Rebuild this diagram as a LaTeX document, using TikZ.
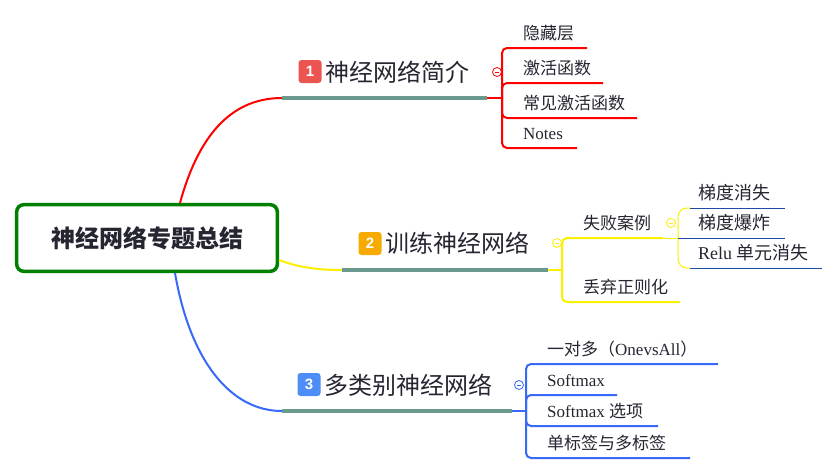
\documentclass[tikz,border=0pt]{standalone}
\usepackage{fontspec}
\setmainfont{Liberation Serif}
\newfontfamily\cjk{Noto Sans CJK SC}
\newfontfamily\digitfont{Liberation Sans}
\usetikzlibrary{calc}
\definecolor{txt}{RGB}{38,38,51}
\definecolor{rootgreen}{RGB}{0,128,0}
\definecolor{bargrey}{RGB}{106,153,142}
\definecolor{lred}{RGB}{255,0,0}
\definecolor{lyellow}{RGB}{250,240,0}
\definecolor{lblue}{RGB}{55,105,250}
\definecolor{ldblue}{RGB}{30,75,165}
\definecolor{bred}{RGB}{235,84,80}
\definecolor{borange}{RGB}{247,170,0}
\definecolor{bblue}{RGB}{77,141,245}
\newcommand\zhs[1]{{\cjk #1}}
\tikzset{
  rootbox/.style={draw=rootgreen, line width=3.5pt, rounded corners=7pt, fill=white,
    minimum width=260.6pt, minimum height=66.6pt, inner sep=0pt, text=txt,
    font=\cjk\bfseries\fontsize{24}{28}\selectfont},
  badge/.style={fill=#1, rounded corners=3pt, minimum size=23pt, inner sep=0pt,
    text=white, font=\digitfont\bfseries\fontsize{15}{17}\selectfont},
  topic/.style={anchor=base west, inner sep=0pt, text=txt, font=\cjk\fontsize{24}{28}\selectfont},
  leaf/.style={anchor=base west, inner sep=0pt, text=txt, font=\fontsize{17}{20}\selectfont},
  subleaf/.style={anchor=base west, inner sep=0pt, text=txt, font=\fontsize{18}{21}\selectfont},
  bar/.style={line width=4pt, draw=bargrey},
  branch/.style={line width=2pt, draw=#1},
  thinbranch/.style={line width=1pt, draw=#1},
  collapse/.style={circle, draw=#1, fill=white, minimum size=9pt, inner sep=0pt, line width=0.8pt,
    path picture={\draw[line width=0.7pt, #1] ([xshift=-2.2pt]path picture bounding box.center) -- ([xshift=2.2pt]path picture bounding box.center);}},
}
\begin{document}
\begin{tikzpicture}[x=1pt,y=-1pt]
\fill[white] (0,0) rectangle (838,475);
\useasboundingbox (0,0) rectangle (838,475);

% root
\node[rootbox] (root) at (147,238) {神经网络专题总结};

% topic anchors
\coordinate (t1a) at (282,98);  \coordinate (t1b) at (487,98);  \coordinate (j1) at (502,98);
\coordinate (t2a) at (342,270); \coordinate (t2b) at (548,270); \coordinate (j2) at (562,270);
\coordinate (t3a) at (282,411); \coordinate (t3b) at (512,411); \coordinate (j4) at (526,411);

% main curves
\draw[branch=lred] ($(root.north)+(33,0)$) .. controls (200,130) and (235,98) .. (t1a);
\draw[branch=lyellow] ($(root.east)+(0,22)$) .. controls (300,268) and (320,270) .. (t2a);
\draw[branch=lblue] ($(root.south)+(28,0)$) .. controls (190,360) and (230,411) .. (t3a);

% bars
\draw[bar] (t1a) -- (t1b);
\draw[bar] (t2a) -- (t2b);
\draw[bar] (t3a) -- (t3b);

% topic labels
\node[badge=bred] (b1) at (310,71.5) {1};
\node[topic] (t1) at (325,81) {神经网络简介};
\node[badge=borange] (b2) at (370,243.5) {2};
\node[topic] (t2) at (385,252) {训练神经网络};
\node[badge=bblue] (b3) at (309,384.5) {3};
\node[topic] (t3) at (324,394) {多类别神经网络};

% topic 1 children
\coordinate (u11) at (587,48);
\coordinate (u12) at (603,83);
\coordinate (u13) at (637,118);
\coordinate (u14) at (577,148);
\draw[branch=lred] (t1b) -- (j1);
\foreach \u in {u11,u12,u13,u14}
  \draw[branch=lred, rounded corners=5pt] (j1) |- (\u);
\node[leaf] (c11) at (523,39.5) {\zhs{隐藏层}};
\node[leaf] (c12) at (523,74.5) {\zhs{激活函数}};
\node[leaf] (c13) at (523,109.5) {\zhs{常见激活函数}};
\node[leaf] (c14) at (523,139.5) {Notes};
\node[collapse=lred] (k1) at (497,72) {};

% topic 2 children
\coordinate (u21) at (663,238);
\coordinate (u22) at (680,302);
\coordinate (j3) at (678,238);
\coordinate (s1) at (690,208);
\coordinate (s3) at (690,268);
\coordinate (v1) at (785,208);
\coordinate (v2) at (785,238);
\coordinate (v3) at (822,268);
\draw[branch=lyellow] (t2b) -- (j2);
\draw[branch=lyellow, rounded corners=5pt] (j2) |- (u21);
\draw[branch=lyellow, rounded corners=5pt] (j2) |- (u22);
\draw[thinbranch=lyellow] (u21) -- (j3);
\draw[thinbranch=lyellow, rounded corners=9pt] (j3) |- (s1);
\draw[thinbranch=lyellow, rounded corners=9pt] (j3) |- (s3);
\draw[thinbranch=ldblue] (s1) -- (v1);
\draw[thinbranch=ldblue] (j3) -- (v2);
\draw[thinbranch=ldblue] (s3) -- (v3);
\node[leaf] (c21) at (583,229.5) {\zhs{失败案例}};
\node[leaf] (c22) at (583,293.5) {\zhs{丢弃正则化}};
\node[subleaf] (d1) at (698,199) {\zhs{梯度消失}};
\node[subleaf] (d2) at (698,229) {\zhs{梯度爆炸}};
\node[subleaf] (d3) at (698,259) {Relu \zhs{单元消失}};
\node[collapse=lyellow] (k2) at (557,243) {};
\node[collapse=lyellow] (k3) at (671,223) {};

% topic 3 children
\coordinate (u31) at (718,364);
\coordinate (u32) at (617,395);
\coordinate (u33) at (658,426);
\coordinate (u34) at (690,458);
\draw[branch=lblue] (t3b) -- (j4);
\foreach \u in {u31,u32,u33,u34}
  \draw[branch=lblue, rounded corners=5pt] (j4) |- (\u);
\node[leaf] (c31) at (547,355.5) {\zhs{一对多（}OnevsAll\zhs{）}};
\node[leaf] (c32) at (547,386.5) {Softmax};
\node[leaf] (c33) at (547,417.5) {Softmax \zhs{选项}};
\node[leaf] (c34) at (547,449.5) {\zhs{单标签与多标签}};
\node[collapse=lblue] (k4) at (519,385) {};
\end{tikzpicture}
\end{document}
